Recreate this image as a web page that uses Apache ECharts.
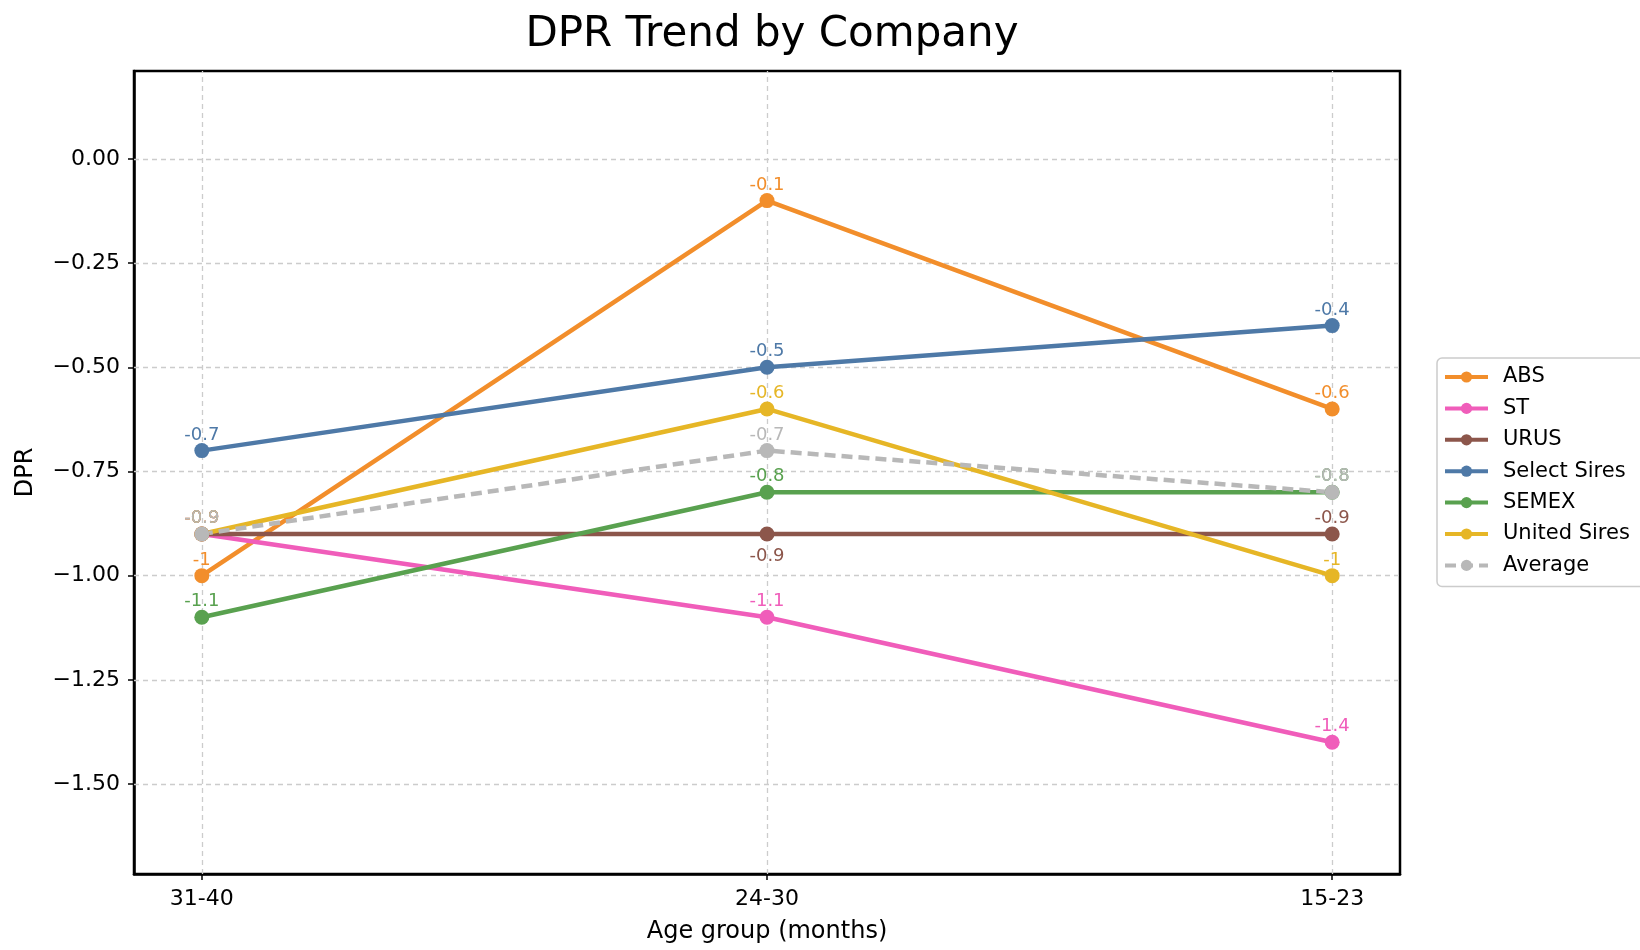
<!DOCTYPE html>
<html>
<head>
<meta charset="utf-8">
<script src="https://cdn.jsdelivr.net/npm/echarts@6/dist/echarts.min.js"></script>
<style>
html,body{margin:0;padding:0;background:#fff;}
#chart{width:1640px;height:950px;}
</style>
</head>
<body>
<div id="chart"></div>
<script>
const categories = ['31-40', '24-30', '15-23'];
const seriesNames = ['ABS', 'ST', 'URUS', 'Select Sires', 'SEMEX', 'United Sires', 'Average'];
const absValues = [-1, -0.1, -0.6];
const stValues = [-0.9, -1.1, -1.4];
const urusValues = [-0.9, -0.9, -0.9];
const selectSiresValues = [-0.7, -0.5, -0.4];
const semexValues = [-1.1, -0.8, -0.8];
const unitedSiresValues = [-0.9, -0.6, -1.0];
const averageValues = [-0.9, -0.7, -0.8];
const yTicks = [0, -0.25, -0.5, -0.75, -1, -1.25, -1.5];

const colors = ['#F28E2B', '#F05DBA', '#8C564B', '#4E79A7', '#59A14F', '#E6B626', '#B8B8B8'];
const allValues = [absValues, stValues, urusValues, selectSiresValues, semexValues, unitedSiresValues, averageValues];
const FONT = 'DejaVu Sans';

const series = seriesNames.map((name, s) => ({
  name: name,
  type: 'line',
  zlevel: 1,
  z: 3,
  data: categories.map((c, i) => {
    const item = { value: [i, allValues[s][i]] };
    if (name === 'URUS' && i === 1) {
      item.label = { position: 'bottom', distance: 6 };
    }
    return item;
  }),
  symbol: 'circle',
  symbolSize: 15,
  showAllSymbol: true,
  lineStyle: { width: 4.5, type: name === 'Average' ? [11, 6] : 'solid', color: colors[s] },
  itemStyle: { color: colors[s], borderWidth: 0, opacity: 1 },
  label: {
    show: true,
    position: 'top',
    distance: -1,
    color: colors[s],
    fontFamily: FONT,
    fontSize: 18,
    formatter: p => String(p.value[1])
  },
  emphasis: { disabled: true },
  animation: false
}));

// grid lines series (dummy)
series.unshift({
  name: '__grid',
  type: 'line',
  data: [],
  zlevel: 0,
  z: 1,
  silent: true,
  markLine: {
    silent: true,
    symbol: 'none',
    animation: false,
    label: { show: false },
    lineStyle: { color: '#cccccc', type: [5, 4], width: 1.3 },
    emphasis: { disabled: true },
    data: categories.map((c, i) => ({ xAxis: i })).concat(yTicks.map(v => ({ yAxis: v })))
  }
});

const chart = echarts.init(document.getElementById('chart'), null, { renderer: 'canvas' });
chart.setOption({
  animation: false,
  backgroundColor: '#ffffff',
  color: colors,
  title: {
    text: 'DPR Trend by Company',
    left: 767,
    top: 9,
    textAlign: 'center',
    textStyle: { fontFamily: FONT, fontSize: 42, fontWeight: 'normal', color: '#000' }
  },
  grid: {
    left: 134, right: 240, top: 71, bottom: 76,
    show: true, borderColor: '#000', borderWidth: 2.5, backgroundColor: 'transparent'
  },
  legend: {
    data: seriesNames,
    orient: 'vertical',
    left: 1437,
    top: 358,
    zlevel: 1,
    padding: [8, 30, 10, 6],
    itemGap: 9.4,
    itemWidth: 43,
    itemHeight: 14,
    lineStyle: { width: 4 },
    itemStyle: { borderWidth: 0 },
    backgroundColor: '#fff',
    borderColor: '#cccccc',
    borderWidth: 1.5,
    borderRadius: 5,
    textStyle: { fontFamily: FONT, fontSize: 21, color: '#000', lineHeight: 22, padding: [0, 0, 0, 10] }
  },
  xAxis: {
    type: 'value',
    min: -0.12,
    max: 2.12,
    name: 'Age group (months)',
    nameLocation: 'middle',
    nameGap: 46,
    nameTextStyle: { fontFamily: FONT, fontSize: 24, color: '#000' },
    axisLine: { show: true, onZero: false, lineStyle: { color: '#000', width: 2.5 } },
    axisTick: { show: true, length: 6, customValues: categories.map((c, i) => i), lineStyle: { color: '#000', width: 1.5 } },
    axisLabel: {
      customValues: categories.map((c, i) => i),
      margin: 14,
      fontFamily: FONT, fontSize: 22, color: '#000',
      formatter: v => categories[Math.round(v)] || ''
    },
    splitLine: { show: false }
  },
  yAxis: {
    type: 'value',
    min: -1.716,
    max: 0.211,
    name: 'DPR',
    nameLocation: 'middle',
    nameRotate: 90,
    nameGap: 96,
    nameTextStyle: { fontFamily: FONT, fontSize: 24, color: '#000' },
    axisLine: { show: true, onZero: false, lineStyle: { color: '#000', width: 2.5 } },
    axisTick: { show: true, length: 6, customValues: yTicks, lineStyle: { color: '#000', width: 1.5 } },
    axisLabel: {
      customValues: yTicks,
      margin: 14,
      fontFamily: FONT, fontSize: 22, color: '#000',
      formatter: v => (v < 0 ? '\u2212' + Math.abs(v).toFixed(2) : v.toFixed(2))
    },
    splitLine: { show: false }
  },
  series: series
});
</script>
</body>
</html>
